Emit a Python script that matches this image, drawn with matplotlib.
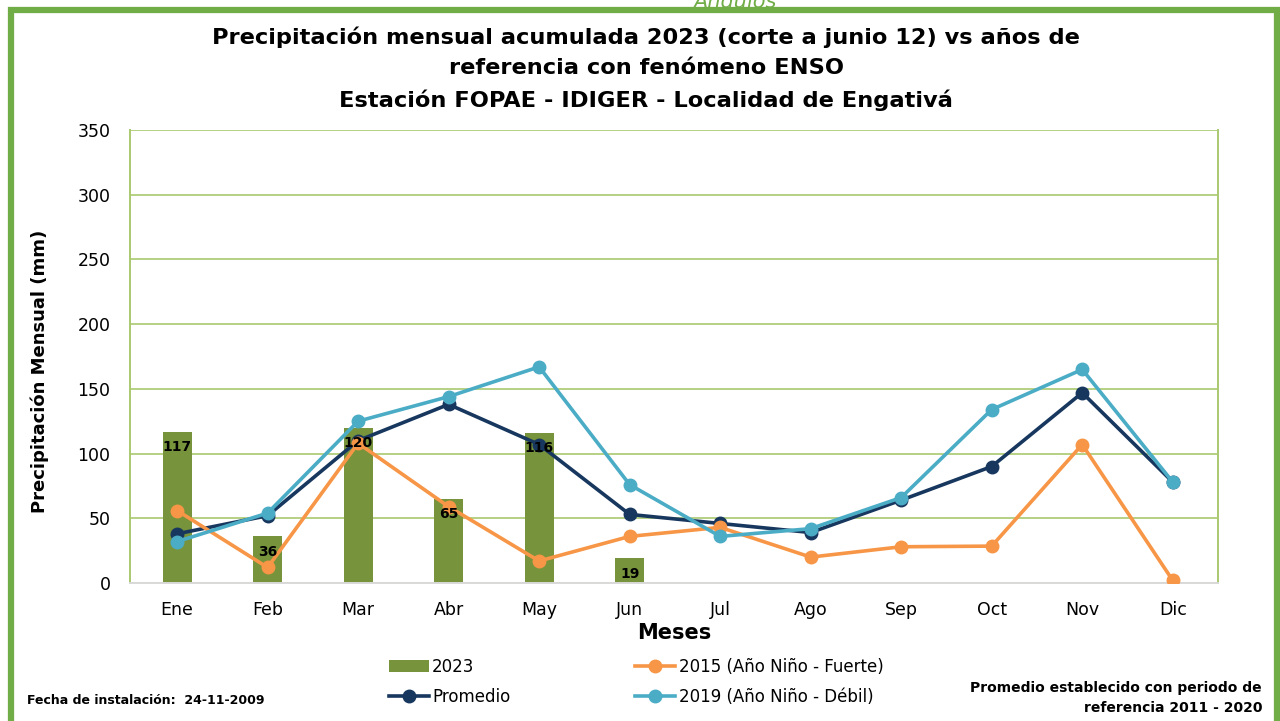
import matplotlib.pyplot as plt
from matplotlib.patches import Rectangle
import numpy as np

months = ["Ene", "Feb", "Mar", "Abr", "May", "Jun", "Jul", "Ago", "Sep", "Oct", "Nov", "Dic"]
rain_2023 = [117, 36, 120, 65, 116, 19]
promedio = [38, 52, 110, 138, 107, 53, 46, 39, 64, 90, 147, 78]
nino_2015 = [56, 12, 108, 59, 17, 36, 43, 20, 28, 28.5, 107, 2]
nino_2019 = [32, 54, 125, 144, 167, 76, 36, 42, 66, 134, 165, 78]

GREEN_BAR = "#77933C"
ORANGE = "#F79646"
NAVY = "#17375E"
LIGHTBLUE = "#4BACC6"
GRID = "#A9C970"

fig = plt.figure(figsize=(12.8, 7.21), dpi=100)
ax = fig.add_axes([130 / 1280, 1 - 583 / 721, 1088 / 1280, 453 / 721])

x = np.arange(len(months))

# --- bars (2023) with value labels inside the top ---
bars = ax.bar(x[:len(rain_2023)], rain_2023, width=0.32, color=GREEN_BAR,
              label="2023", zorder=2)
for b, v in zip(bars, rain_2023):
    ax.annotate(f"{v:d}", (b.get_x() + b.get_width() / 2, v), xytext=(0, -11),
                textcoords="offset points", ha="center", va="center",
                fontsize=10, fontweight="bold", color="black", zorder=5)

# --- reference lines ---
ln_prom, = ax.plot(x, promedio, color=NAVY, lw=2.6, marker="o", ms=9,
                   label="Promedio", zorder=3)
ln_2015, = ax.plot(x, nino_2015, color=ORANGE, lw=2.6, marker="o", ms=9,
                   label="2015 (Año Niño - Fuerte)", zorder=3)
ln_2019, = ax.plot(x, nino_2019, color=LIGHTBLUE, lw=2.6, marker="o", ms=9,
                   label="2019 (Año Niño - Débil)", zorder=3)

ax.set_xlim(-0.52, 11.5)
ax.set_ylim(0, 350)
ax.set_yticks(np.arange(0, 351, 50))
ax.set_xticks(x)
ax.set_xticklabels(months)
ax.tick_params(axis="both", length=0, labelsize=12.5, colors="black")
ax.tick_params(axis="x", pad=13)
ax.tick_params(axis="y", pad=14)
ax.grid(axis="y", color=GRID, lw=1.2, zorder=0)
ax.set_axisbelow(True)
for s in ["left", "right"]:
    ax.spines[s].set_color(GRID)
    ax.spines[s].set_linewidth(1.4)
ax.spines["top"].set_visible(False)
ax.spines["bottom"].set_color("#D9D9D9")
ax.spines["bottom"].set_linewidth(1.4)

ax.set_ylabel("Precipitación Mensual (mm)", fontsize=13, fontweight="bold")
ax.yaxis.set_label_coords(-0.074, 0.468)
ax.set_xlabel("Meses", fontsize=15, fontweight="bold", labelpad=3)

# legend: row-major look -> column order
leg = fig.legend(handles=[bars, ln_prom, ln_2015, ln_2019], ncol=2,
                 loc="center", bbox_to_anchor=(0.497, 1 - 682 / 721),
                 frameon=False, fontsize=12, columnspacing=7.5,
                 handlelength=2.4, handletextpad=0.2, labelspacing=0.75)

# titles
fig.text(0.505, 1 - 37 / 721, "Precipitación mensual acumulada 2023 (corte a junio 12) vs años de",
         ha="center", va="center", fontsize=16.2, fontweight="bold")
fig.text(0.505, 1 - 68 / 721, "referencia con fenómeno ENSO",
         ha="center", va="center", fontsize=16.2, fontweight="bold")
fig.text(0.505, 1 - 100 / 721, "Estación FOPAE - IDIGER - Localidad de Engativá",
         ha="center", va="center", fontsize=16.2, fontweight="bold")
fig.text(0.574, 1.0, "Ángulos", ha="center", va="center", fontsize=15,
         style="italic", color="#70AD47")

fig.text(27 / 1280, 1 - 700 / 721, "Fecha de instalación:  24-11-2009",
         ha="left", va="center", fontsize=9, fontweight="bold")
fig.text(1262 / 1280, 1 - 698 / 721, "Promedio establecido con periodo de\nreferencia 2011 - 2020",
         ha="right", va="center", fontsize=10, fontweight="bold", linespacing=1.5)

# green frame around the chart
fig.patches.append(Rectangle((11 / 1280, -0.05), 1266 / 1280, 1.05 - 10 / 721,
                             transform=fig.transFigure, fill=False,
                             edgecolor="#70AD47", lw=4.5, zorder=10))

fig.savefig("out.png", dpi=100)
